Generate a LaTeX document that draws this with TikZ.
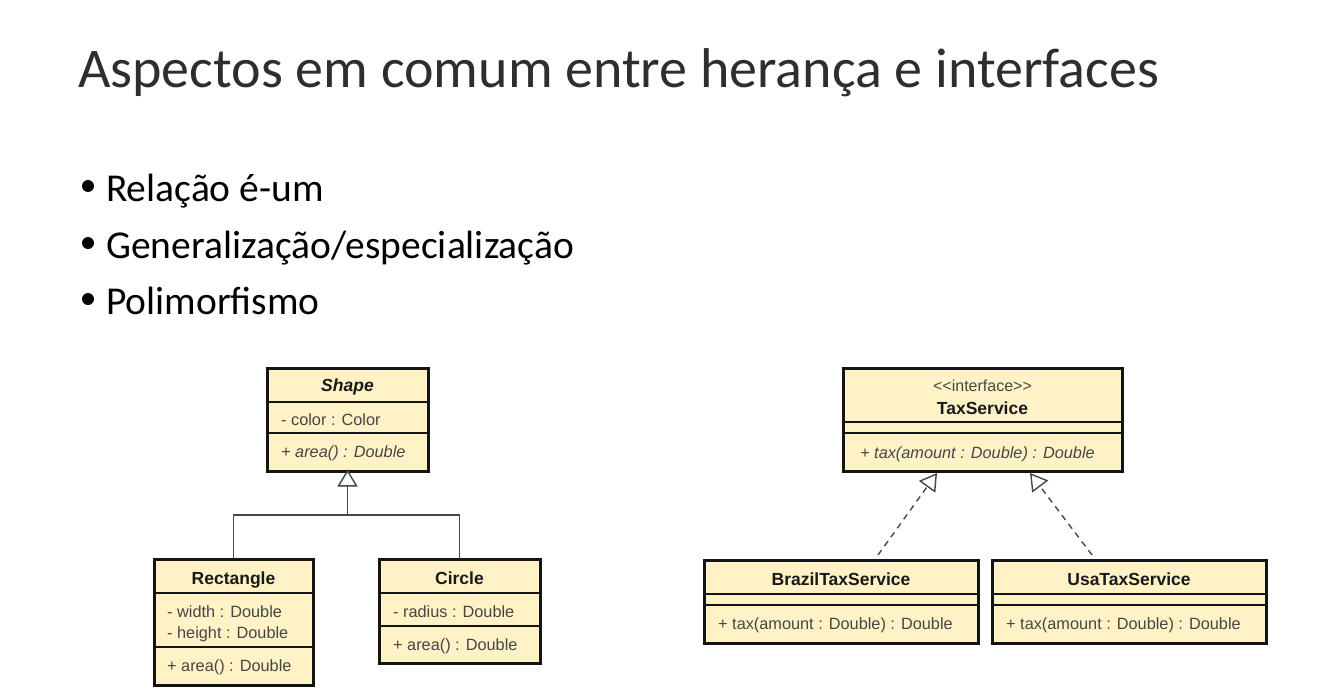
\documentclass[tikz,border=0pt]{standalone}
\usepackage{fontspec}
\setmainfont{Carlito}
\newfontfamily\umlfont{Liberation Sans}
\usetikzlibrary{arrows.meta}
\definecolor{umlfill}{RGB}{255,242,198}
\definecolor{umlline}{RGB}{20,20,20}
\definecolor{umltext}{RGB}{70,70,70}
\definecolor{conn}{RGB}{70,70,70}
\begin{document}
\begin{tikzpicture}[x=1pt,y=-1pt,
  cls/.style={draw=umlline, line width=3pt, fill=umlfill, inner sep=0pt, outer sep=0pt, anchor=north west},
  div/.style={draw=umlline, line width=1.3pt},
  ctitle/.style={font=\umlfont\fontsize{17.5}{20}\selectfont\bfseries, text=black!90, anchor=base, inner sep=0pt},
  attr/.style={font=\umlfont\fontsize{16.3}{19}\selectfont, text=umltext, anchor=base west, inner sep=0pt},
  stereo/.style={font=\umlfont\fontsize{16}{19}\selectfont, text=umltext, anchor=base, inner sep=0pt},
  gen/.style={draw=conn, line width=1.4pt},
  real/.style={draw=conn, line width=1.4pt, dash pattern=on 6pt off 5pt},
  tip/.style={-{Triangle[open, length=17pt, width=20pt, line width=1.4pt]}},
  slidetitle/.style={font=\fontsize{56}{60}\selectfont, text=black!82, anchor=base west, inner sep=0pt},
  bullet/.style={font=\fontsize{39.5}{44}\selectfont, text=black, anchor=base west, inner sep=0pt},
  dot/.style={circle, fill=black, inner sep=0pt, minimum size=12pt}
]
\useasboundingbox[fill=white] (0,0) rectangle (1319,698);

% slide text
\node[slidetitle] (title) at (78,88) {Aspectos em comum entre herança e interfaces};
\node[dot] (d1) at (88,186) {};
\node[bullet] (b1) at (106,201) {Relação é-um};
\node[dot] (d2) at (88,243) {};
\node[bullet] (b2) at (106,258) {Generalização/especialização};
\node[dot] (d3) at (88,299) {};
\node[bullet] (b3) at (106,314) {Polimorfismo};

% ---------- Shape hierarchy ----------
\node[cls, minimum width=161pt, minimum height=103pt] (shape) at (267,368) {};
\draw[div] (267,402) -- (428,402);
\draw[div] (267,433) -- (428,433);
\node[ctitle, font=\umlfont\fontsize{17.5}{20}\selectfont\bfseries\itshape] (shapet) at (347.5,391) {Shape};
\node[attr] (shapea) at (281,425) {- color : Color};
\node[attr, font=\umlfont\fontsize{16.3}{19}\selectfont\itshape] (shapem) at (281,457) {+ area() : Double};

\node[cls, minimum width=159pt, minimum height=126pt] (rect) at (154,559) {};
\draw[div] (154,593) -- (313,593);
\draw[div] (154,647) -- (313,647);
\node[ctitle] (rectt) at (233.5,584) {Rectangle};
\node[attr] (recta1) at (167,617) {- width : Double};
\node[attr] (recta2) at (167,638) {- height : Double};
\node[attr] (rectm) at (167,671) {+ area() : Double};

\node[cls, minimum width=161pt, minimum height=104pt] (circ) at (379,559) {};
\draw[div] (379,593) -- (540,593);
\draw[div] (379,626) -- (540,626);
\node[ctitle] (circt) at (459.5,584) {Circle};
\node[attr] (circa) at (393,617) {- radius : Double};
\node[attr] (circm) at (393,650) {+ area() : Double};

\coordinate (join) at (347.5,515);
\draw[gen] (rect.north) |- (join) -| (circ.north);
\draw[gen, tip] (join) -- ([yshift=1.5pt]shape.south);

% ---------- TaxService ----------
\node[cls, minimum width=279pt, minimum height=103pt] (tax) at (843,368) {};
\draw[div] (843,422) -- (1122,422);
\draw[div] (843,433) -- (1122,433);
\node[stereo] (taxs) at (982.5,391) {<<interface>>};
\node[ctitle] (taxt) at (982.5,414) {TaxService};
\node[attr, font=\umlfont\fontsize{16.3}{19}\selectfont\itshape] (taxm) at (860,458) {+ tax(amount : Double) : Double};

\node[cls, minimum width=274pt, minimum height=83pt] (brz) at (704,560) {};
\draw[div] (704,594) -- (978,594);
\draw[div] (704,605) -- (978,605);
\node[ctitle] (brzt) at (841,585) {BrazilTaxService};
\node[attr] (brzm) at (718,629) {+ tax(amount : Double) : Double};

\node[cls, minimum width=274pt, minimum height=83pt] (usa) at (992,560) {};
\draw[div] (992,594) -- (1266,594);
\draw[div] (992,605) -- (1266,605);
\node[ctitle] (usat) at (1129,585) {UsaTaxService};
\node[attr] (usam) at (1006,629) {+ tax(amount : Double) : Double};

\coordinate (bfrom) at (878,555);
\coordinate (bto) at (937,473);
\coordinate (ufrom) at (1092,555);
\coordinate (uto) at (1030,473);
\draw[real, tip] (bfrom) -- (bto);
\draw[real, tip] (ufrom) -- (uto);
\end{tikzpicture}
\end{document}
